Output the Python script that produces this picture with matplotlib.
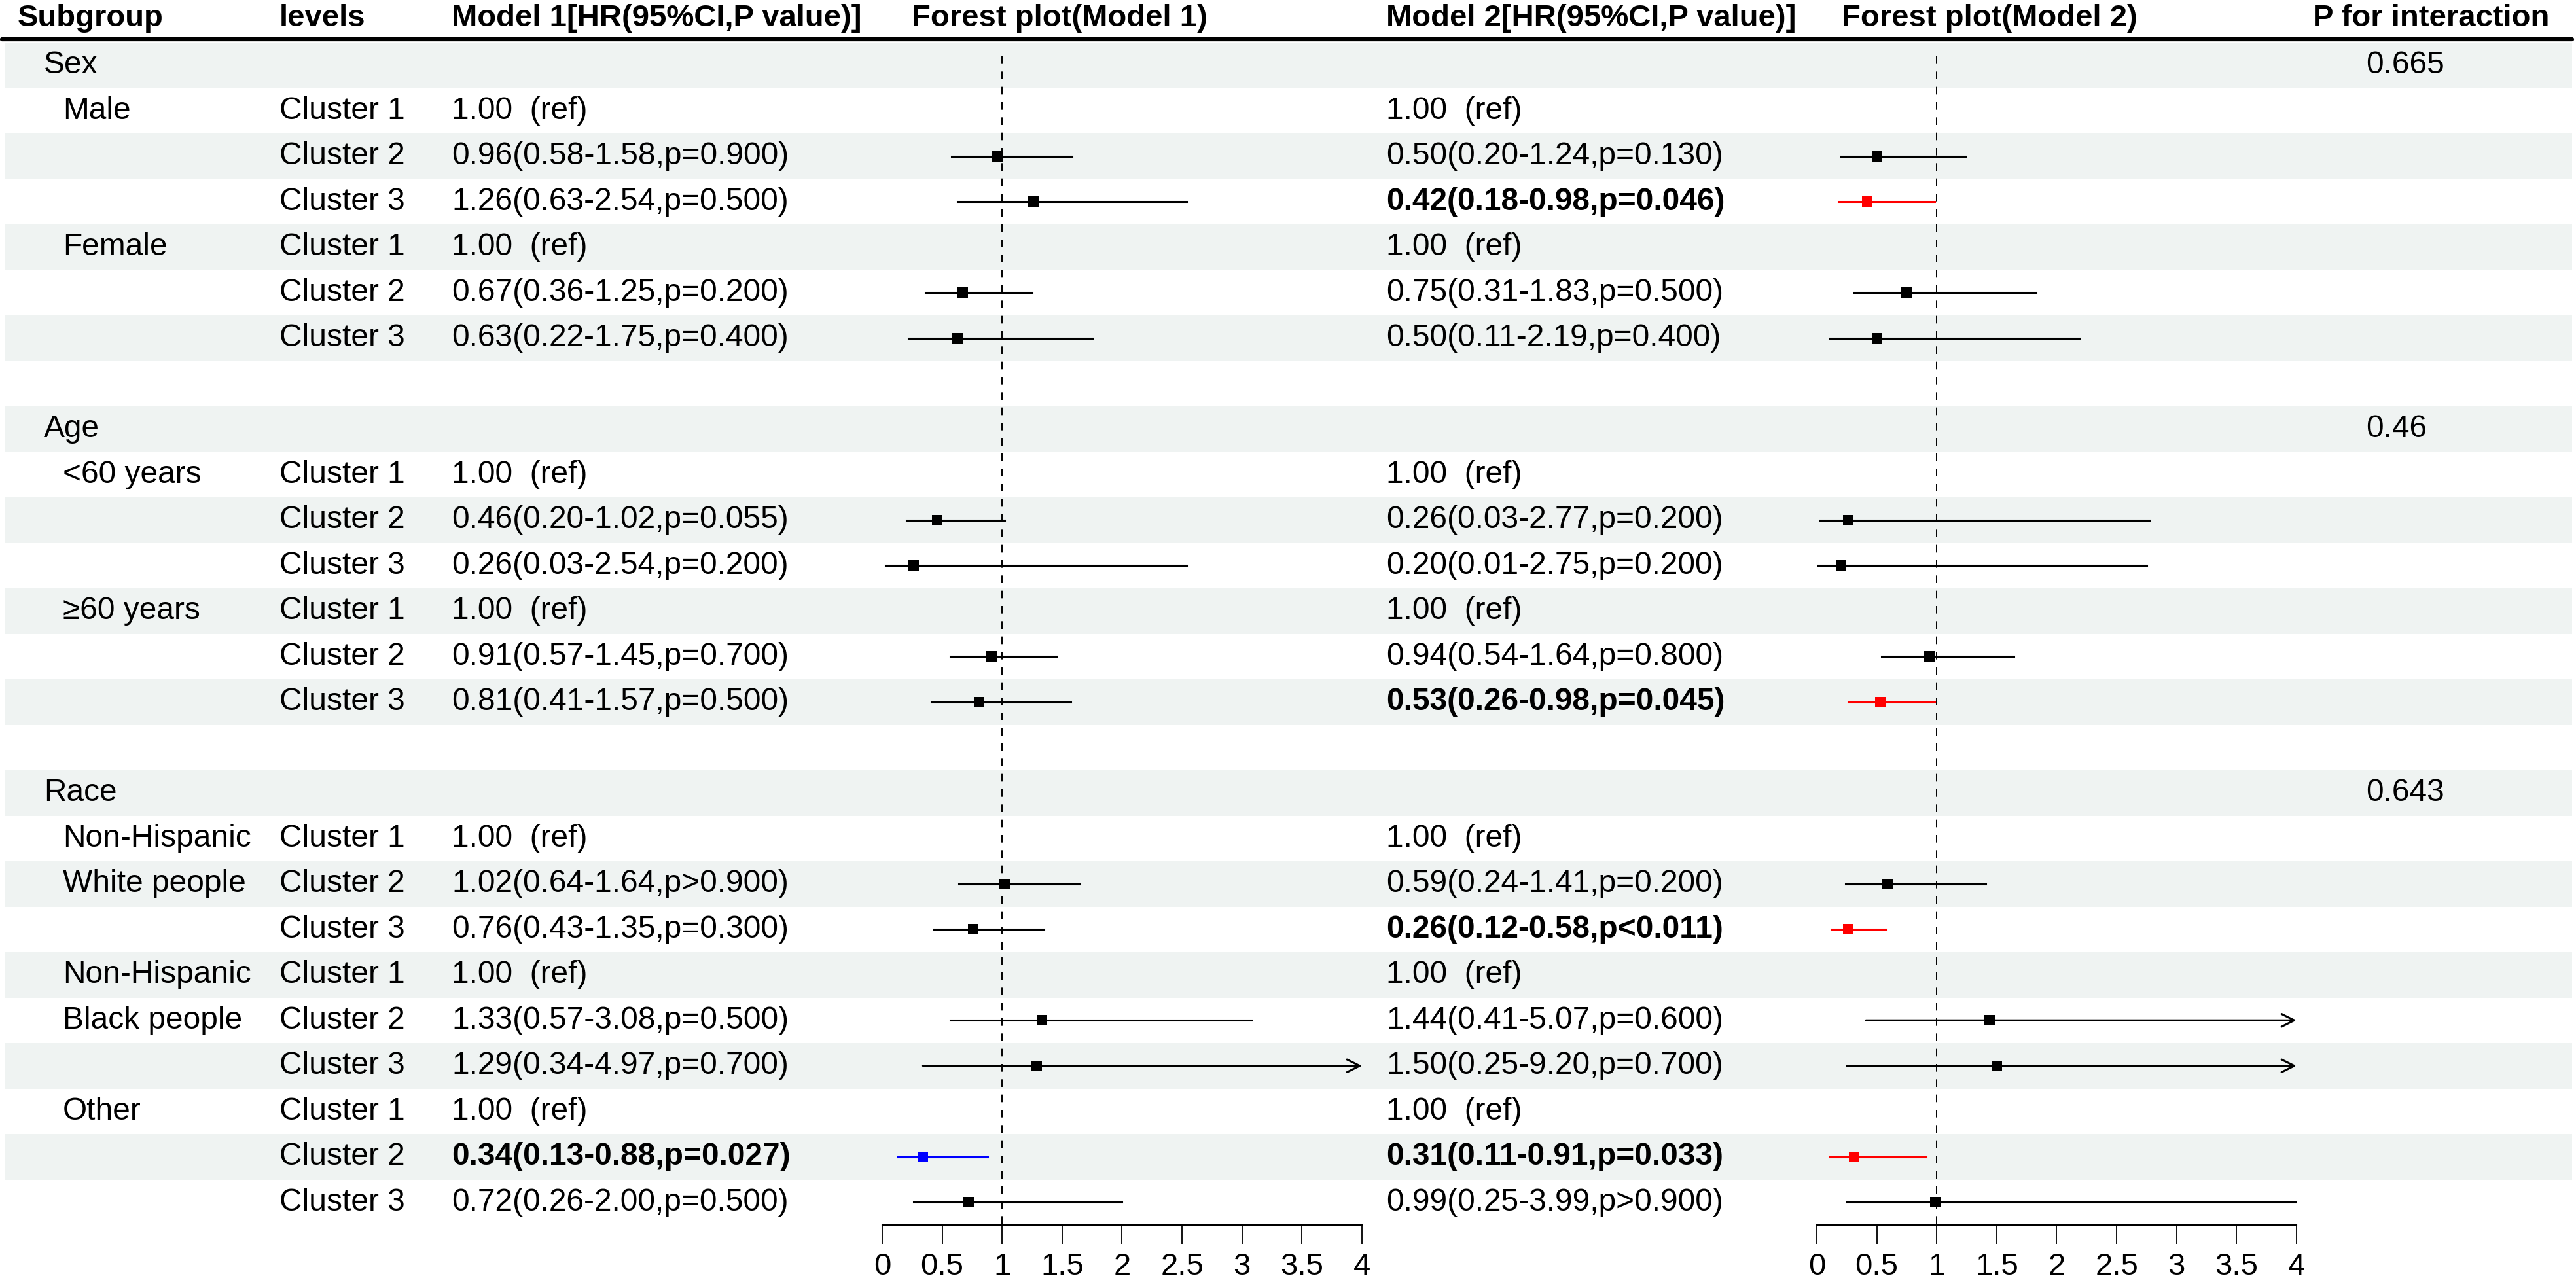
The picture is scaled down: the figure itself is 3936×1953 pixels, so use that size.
import numpy as np
import matplotlib.pyplot as plt

plt.rcParams['font.family'] = ['Liberation Sans', 'DejaVu Sans']

nan = np.nan

# table rows (26 rows, top to bottom)
subgroup = ["Sex", "Male", "", "", "Female", "", "", "",
            "Age", "<60 years", "", "", "≥60 years", "", "", "",
            "Race", "Non-Hispanic", "White people", "", "Non-Hispanic", "Black people", "",
            "Other", "", ""]
is_group = [s in ("Sex", "Age", "Race") for s in subgroup]
levels = ["", "Cluster 1", "Cluster 2", "Cluster 3", "Cluster 1", "Cluster 2", "Cluster 3", "",
          "", "Cluster 1", "Cluster 2", "Cluster 3", "Cluster 1", "Cluster 2", "Cluster 3", "",
          "", "Cluster 1", "Cluster 2", "Cluster 3", "Cluster 1", "Cluster 2", "Cluster 3",
          "Cluster 1", "Cluster 2", "Cluster 3"]

# Model 1
m1_hr = [nan, nan, 0.96, 1.26, nan, 0.67, 0.63, nan, nan, nan, 0.46, 0.26, nan, 0.91, 0.81, nan,
         nan, nan, 1.02, 0.76, nan, 1.33, 1.29, nan, 0.34, 0.72]
m1_lo = [nan, nan, 0.58, 0.63, nan, 0.36, 0.22, nan, nan, nan, 0.20, 0.03, nan, 0.57, 0.41, nan,
         nan, nan, 0.64, 0.43, nan, 0.57, 0.34, nan, 0.13, 0.26]
m1_hi = [nan, nan, 1.58, 2.54, nan, 1.25, 1.75, nan, nan, nan, 1.02, 2.54, nan, 1.45, 1.57, nan,
         nan, nan, 1.64, 1.35, nan, 3.08, 4.97, nan, 0.88, 2.00]
m1_p = ["", "", "=0.900", "=0.500", "", "=0.200", "=0.400", "", "", "", "=0.055", "=0.200", "",
        "=0.700", "=0.500", "", "", "", ">0.900", "=0.300", "", "=0.500", "=0.700", "", "=0.027", "=0.500"]
m1_sig = [i == 24 for i in range(26)]

# Model 2
m2_hr = [nan, nan, 0.50, 0.42, nan, 0.75, 0.50, nan, nan, nan, 0.26, 0.20, nan, 0.94, 0.53, nan,
         nan, nan, 0.59, 0.26, nan, 1.44, 1.50, nan, 0.31, 0.99]
m2_lo = [nan, nan, 0.20, 0.18, nan, 0.31, 0.11, nan, nan, nan, 0.03, 0.01, nan, 0.54, 0.26, nan,
         nan, nan, 0.24, 0.12, nan, 0.41, 0.25, nan, 0.11, 0.25]
m2_hi = [nan, nan, 1.24, 0.98, nan, 1.83, 2.19, nan, nan, nan, 2.77, 2.75, nan, 1.64, 0.98, nan,
         nan, nan, 1.41, 0.58, nan, 5.07, 9.20, nan, 0.91, 3.99]
m2_p = ["", "", "=0.130", "=0.046", "", "=0.500", "=0.400", "", "", "", "=0.200", "=0.200", "",
        "=0.800", "=0.045", "", "", "", "=0.200", "<0.011", "", "=0.600", "=0.700", "", "=0.033", ">0.900"]
m2_sig = [i in (3, 14, 19, 24) for i in range(26)]

p_interaction = ["0.665", "", "", "", "", "", "", "", "0.46", "", "", "", "", "", "", "",
                 "0.643", "", "", "", "", "", "", "", "", ""]

headers = ["Subgroup", "levels", "Model 1[HR(95%CI,P value)]", "Forest plot(Model 1)",
           "Model 2[HR(95%CI,P value)]", "Forest plot(Model 2)", "P for interaction"]

W, H = 3937, 1953
fs = 34.5
row_top, row_h = 65, 69.5
n = len(subgroup)

fig = plt.figure(figsize=(W / 100, H / 100), dpi=100)
tab = fig.add_axes([0, 0, 1, 1])
tab.set_xlim(0, W)
tab.set_ylim(H, 0)
tab.axis('off')

def yc(i):
    return row_top + row_h * (i + 0.5)

# striped background
for i in range(n):
    if i % 2 == 0:
        tab.axhspan(row_top + row_h * i, row_top + row_h * (i + 1), xmin=7 / W, xmax=3930 / W,
                    color='#eff3f2', lw=0, zorder=0)

# header
hx = [27, 427, 690, 1393, 2118, 2814, 3534]
for x, t in zip(hx, headers):
    tab.text(x, 28, t, fontsize=34, fontweight='bold', va='center', ha='left')
tab.plot([3, 3930], [60, 60], color='black', lw=4.5, solid_capstyle='round')

def hr_text(hr, lo, hi, p):
    return f"{hr:.2f}({lo:.2f}-{hi:.2f},p{p})"

for i in range(n):
    y = yc(i)
    if subgroup[i]:
        tab.text(67 if is_group[i] else 96, y, subgroup[i], fontsize=fs, va='center')
    if levels[i]:
        tab.text(427, y, levels[i], fontsize=fs, va='center')
    if levels[i] == "Cluster 1":
        tab.text(690, y, "1.00  (ref)", fontsize=fs, va='center')
        tab.text(2118, y, "1.00  (ref)", fontsize=fs, va='center')
    if not np.isnan(m1_hr[i]):
        tab.text(690, y, hr_text(m1_hr[i], m1_lo[i], m1_hi[i], m1_p[i]), fontsize=fs, va='center',
                 fontweight='bold' if m1_sig[i] else 'normal')
    if not np.isnan(m2_hr[i]):
        tab.text(2118, y, hr_text(m2_hr[i], m2_lo[i], m2_hi[i], m2_p[i]), fontsize=fs, va='center',
                 fontweight='bold' if m2_sig[i] else 'normal')
    if p_interaction[i]:
        tab.text(3615, y, p_interaction[i], fontsize=fs, va='center')


def forest(left_px, hr, lo, hi, sig, sig_color):
    ax = fig.add_axes([left_px / W, 1 - (row_top + row_h * n) / H, 733 / W, row_h * n / H])
    ax.set_xlim(0, 4)
    ax.set_ylim(n - 0.5, -0.5)
    ax.patch.set_alpha(0)
    for s in ('top', 'left', 'right'):
        ax.spines[s].set_visible(False)
    ax.spines['bottom'].set_linewidth(1.5)
    ax.set_yticks([])
    ticks = np.arange(0, 4.01, 0.5)
    ax.set_xticks(ticks)
    ax.set_xticklabels([f"{t:g}" for t in ticks])
    ax.tick_params(axis='x', direction='out', length=21, width=1.3, pad=9, labelsize=34)
    ax.vlines(1, -0.2, n - 0.5, colors='black', linestyles=(0, (6, 6)), lw=1.4, zorder=1)
    for i in range(n):
        if np.isnan(hr[i]):
            continue
        c = sig_color if sig[i] else 'black'
        if hi[i] > 4:
            ax.annotate('', xy=(4, i), xytext=(lo[i], i), annotation_clip=False,
                        arrowprops=dict(arrowstyle='->,head_length=0.7,head_width=0.35', color=c,
                                        lw=2.2, mutation_scale=20, shrinkA=0, shrinkB=0))
        else:
            ax.plot([lo[i], hi[i]], [i, i], color=c, lw=2.2, clip_on=False, zorder=2)
        ax.plot(hr[i], i, 's', color=c, ms=11, mew=0, clip_on=False, zorder=3)
    return ax

forest(1348, m1_hr, m1_lo, m1_hi, m1_sig, '#0000FF')
forest(2776, m2_hr, m2_lo, m2_hi, m2_sig, '#FF0000')

fig.savefig('out.png', dpi=100)
